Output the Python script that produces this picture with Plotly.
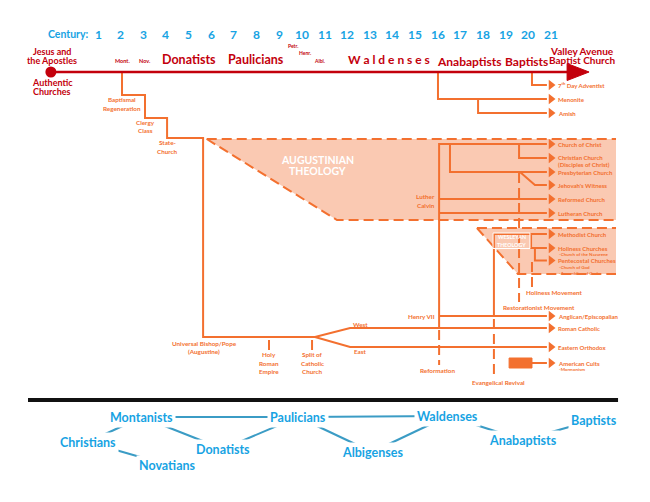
import plotly.graph_objects as go

# ---------------- data (x = century, y = diagram row) ----------------
centuries = list(range(1, 22))

# labels above / around the main "authentic churches" line
top_labels = ["Jesus and<br>the Apostles", "Authentic<br>Churches", "Mont.", "Nov.", "Donatists",
              "Paulicians", "Petr.", "Henr.", "Albi.", "W a l d e n s e s", "Anabaptists",
              "Baptists", "Valley Avenue<br>Baptist Church"]
top_century = [-1.03, -1.03, 2.06, 3.075, 5.0, 7.98, 9.61, 10.14, 10.80, 13.83, 17.42, 19.9, 22.37]
top_row = [56, 87, 61, 61, 59, 59, 46, 53, 61, 59, 61, 61, 55.5]

# churches at the right-hand end of each branch
end_labels = ["7<sup>th</sup> Day Adventist", "Menonite", "Amish", "Church of Christ",
              "Christian Church<br>(Disciples of Christ)", "Presbyterian Church", "Jehovah's Witness",
              "Reformed Church", "Lutheran Church", "Methodist Church", "Holiness Churches",
              "Pentecostal Churches", "Anglican/Episcopalian", "Roman Catholic", "Eastern Orthodox",
              "American Cults"]
end_rows = [85, 99, 113, 144, 158, 172, 185, 199, 213, 234, 248, 260.5, 316, 328, 347, 363]
sub_labels = ["-Church of the Nazarene", "-Church of God", "-Assemblies of God", "-Mormonism"]
sub_rows = [254, 267.5, 273, 369]

# solid branch paths (century, row)
branches = [
    [(2.06, 72), (2.06, 95), (3.075, 95), (3.075, 118), (4.05, 118), (4.05, 138), (5.64, 138),
     (5.64, 337), (10.58, 337), (12.13, 328), (20.82, 328)],
    [(10.58, 337), (12.13, 347), (20.82, 347)],
    [(16.01, 72), (16.01, 99), (20.82, 99)],
    [(17.78, 99), (17.78, 113), (20.82, 113)],
    [(20.16, 72), (20.16, 85), (20.82, 85)],
    [(16.06, 328), (16.06, 144), (20.82, 144)],
    [(16.54, 144), (16.54, 172), (20.82, 172)],
    [(19.59, 144), (19.59, 158), (20.82, 158)],
    [(19.63, 172), (20.29, 185), (20.82, 185)],
    [(16.06, 199), (20.82, 199)],
    [(16.06, 213), (20.82, 213)],
    [(16.06, 316), (20.82, 316)],
    [(18.48, 316), (18.48, 234), (20.82, 234)],
    [(20.12, 234), (20.12, 248), (20.82, 248)],
    [(20.29, 248), (20.29, 260.5), (20.82, 260.5)],
    [(20.16, 363), (20.82, 363)],
]
# dashed event markers
dashed = [
    [(5.80, 139), (23.87, 139)], [(5.80, 139), (11.55, 220), (23.87, 220)],
    [(17.73, 228), (23.87, 228)], [(17.73, 228), (19.54, 274), (23.87, 274)],
    [(8.55, 340), (8.55, 351)], [(10.45, 340), (10.45, 351)],
    [(16.06, 330), (16.06, 365)], [(18.48, 319), (18.48, 377)],
    [(19.59, 173), (19.59, 302)], [(20.16, 262), (20.16, 287)],
]
augustinian = [(5.80, 139), (23.87, 139), (23.87, 220), (11.55, 220)]
wesleyan = [(17.73, 228), (23.87, 228), (23.87, 274), (19.54, 274)]
wesleyan_frame = [(18.44, 233), (20.07, 233), (20.07, 248.5), (18.44, 248.5)]
cults_box = [(19.15, 358), (20.16, 358), (20.16, 368), (19.15, 368)]

event_labels = ["Baptismal<br>Regeneration", "Clergy<br>Class", "State-<br>Church",
                "Universal Bishop/Pope<br>(Augustine)", "Holy<br>Roman<br>Empire",
                "Split of<br>Catholic<br>Church", "West", "East", "Reformation",
                "Evangelical Revival", "Restorationist Movement", "Holiness Movement"]
event_century = [2.06, 3.075, 4.09, 5.68, 8.55, 10.45, 12.61, 12.61, 15.97, 18.66, 20.45, 21.15]
event_row = [104, 126.5, 147, 347.5, 363, 363, 324, 351, 370, 382, 307, 292]

# lower network of groups
nodes = ["Christians", "Montanists", "Novatians", "Donatists", "Paulicians",
         "Albigenses", "Waldenses", "Anabaptists", "Baptists"]
node_century = [0.56, 2.94, 4.09, 6.52, 9.83, 13.10, 16.45, 19.76, 22.90]
node_row = [442, 417, 465, 449, 417, 452, 416, 440, 420]
edges = [("Christians", "Montanists"), ("Christians", "Novatians"), ("Montanists", "Paulicians"),
         ("Montanists", "Donatists"), ("Novatians", "Donatists"), ("Donatists", "Paulicians"),
         ("Paulicians", "Waldenses"), ("Paulicians", "Albigenses"), ("Albigenses", "Waldenses"),
         ("Waldenses", "Anabaptists"), ("Anabaptists", "Baptists")]

# ---------------- styling ----------------
RED = "#c3000c"
ORANGE = "#f3702f"
PEACH = "#fac9b2"
BLUE = "#17a3e3"
LINKBLUE = "#3b9cc5"
FONT = "Lato"
DASH = "10px,5px"

fig = go.Figure()

def poly(pts, **kw):
    xs = [p[0] for p in pts]
    ys = [p[1] for p in pts]
    fig.add_trace(go.Scatter(x=xs, y=ys, mode="lines", hoverinfo="skip", showlegend=False, **kw))

# fills
poly(augustinian + [augustinian[0]], fill="toself", fillcolor=PEACH, line=dict(width=0))
poly(wesleyan + [wesleyan[0]], fill="toself", fillcolor=PEACH, line=dict(width=0))

for d in dashed:
    poly(d, line=dict(color=ORANGE, width=2, dash=DASH))
for b in branches:
    poly(b, line=dict(color=ORANGE, width=2))
poly(cults_box + [cults_box[0]], fill="toself", fillcolor=ORANGE, line=dict(color=ORANGE, width=1))
poly(wesleyan_frame + [wesleyan_frame[0]], line=dict(color="white", width=1))

# arrowheads
fig.add_trace(go.Scatter(x=[21.0] * len(end_rows), y=end_rows, mode="markers",
                         marker=dict(symbol="triangle-right", size=9, color=ORANGE),
                         hoverinfo="skip", showlegend=False))

# main timeline
poly([(-1.08, 72), (21.75, 72)], line=dict(color=RED, width=2.5))
poly([(21.71, 63.5), (22.68, 72), (21.71, 80.5), (21.71, 63.5)], fill="toself", fillcolor=RED,
     line=dict(color=RED, width=1))
fig.add_trace(go.Scatter(x=[-1.08], y=[72], mode="markers", marker=dict(size=11, color=RED),
                         hoverinfo="skip", showlegend=False))

# separator
poly([(-2.09, 400), (23.96, 400)], line=dict(color="#111111", width=4))

# network edges
for a, b in edges:
    ia, ib = nodes.index(a), nodes.index(b)
    poly([(node_century[ia], node_row[ia]), (node_century[ib], node_row[ib])],
         line=dict(color=LINKBLUE, width=2))

ann = []
def text(x, y, s, size, color, xanchor="center", bg=None, pad=0, gap=None):
    """Multi-line labels are laid out one line per annotation with a tight line gap."""
    lines = s.split("<br>")
    if gap is None:
        gap = size * 1.2
    y0 = y - gap * (len(lines) - 1) / 2
    for i, line in enumerate(lines):
        d = dict(x=x, y=y0 + i * gap, xref="x", yref="y", text=line, showarrow=False,
                 xanchor=xanchor, yanchor="middle",
                 font=dict(family=FONT, size=size, color=color, weight="bold"), borderpad=pad)
        if bg:
            d["bgcolor"] = bg
        ann.append(d)

# century scale
text(0.65, 34, "Century:", 10.5, BLUE, xanchor="right")
for c in centuries:
    text(c, 34, str(c), 12, BLUE)

top_sizes = [9, 9, 5.5, 5.5, 12.5, 12.5, 5, 5, 5, 12, 12, 12, 10]
for s, x, y, fs in zip(top_labels, top_century, top_row, top_sizes):
    text(x, y, s, fs, RED, gap=8.6)

for s, y in zip(end_labels, end_rows):
    yy = y + 3 if "<br>" in s else y
    text(21.26, yy, s, 6, ORANGE, xanchor="left", gap=6.5)
for s, y in zip(sub_labels, sub_rows):
    text(21.3, y, s, 4.5, ORANGE, xanchor="left")

for s, x, y in zip(event_labels, event_century, event_row):
    text(x, y, s, 6.3, ORANGE, gap=8.2)

text(15.92, 201, "Luther<br>Calvin", 6.3, ORANGE, xanchor="right", gap=9.5)
text(15.92, 316, "Henry VII", 6.3, ORANGE, xanchor="right")
text(10.67, 165.5, "AUGUSTINIAN<br>THEOLOGY", 10.5, "white", gap=11)
text(19.26, 241, "WESLEYAN<br>THEOLOGY", 5.3, "white", gap=7.5)

for s, x, y in zip(nodes, node_century, node_row):
    text(x, y, s, 12.5, BLUE, bg="white", pad=2)

# the page body adds an 8px offset; axes ranges compensate so rows/centuries land in place
fig.update_layout(
    width=650, height=502, margin=dict(l=0, r=0, t=0, b=0),
    paper_bgcolor="white", plot_bgcolor="white", annotations=ann,
    xaxis=dict(range=[-2.9735, 25.724], visible=False, fixedrange=True),
    yaxis=dict(range=[510, 8], visible=False, fixedrange=True),
)
fig.write_html("out.html")
